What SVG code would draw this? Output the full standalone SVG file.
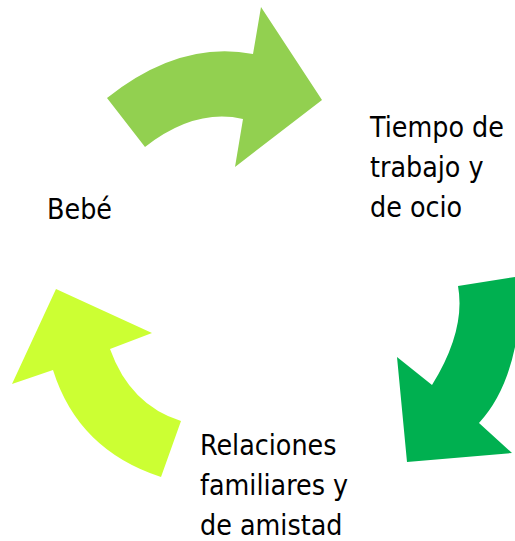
<svg xmlns="http://www.w3.org/2000/svg" width="515" height="541" viewBox="0 0 515 541">
<style>
.lbl{font-family:"DejaVu Sans Condensed","DejaVu Sans",sans-serif;font-stretch:condensed;font-size:28.3px;fill:#000}
</style>
<rect width="515" height="541" fill="#fff"/>
<g id="connectors">
<path id="arrow-top" fill="#92D050" d="M107,98 Q180,40 253,54 L261,7 L322,100 L235,167 L243,119 Q195,108 145,147 Z"/>
<path id="arrow-right" fill="#00B050" d="M458,286 L515,277 L515,347 Q505,395 479,423 L512,453 L407,462 L397,357 L432,385 Q466,330 458,286 Z"/>
<path id="arrow-left" fill="#CCFF33" d="M181,421 Q130,405 110,349 L152,333 L56,289 L12,384 L53,370 Q78,450 161,477 Z"/>
</g>
<g id="node-bebe"><text class="lbl" x="47" y="219">Bebé</text></g>
<g id="node-tiempo"><text class="lbl" x="370" y="137">Tiempo de</text><text class="lbl" x="370" y="177">trabajo y</text><text class="lbl" x="370" y="217">de ocio</text></g>
<g id="node-relaciones"><text class="lbl" x="200" y="455">Relaciones</text><text class="lbl" x="200" y="495">familiares y</text><text class="lbl" x="200" y="535">de amistad</text></g>
</svg>
